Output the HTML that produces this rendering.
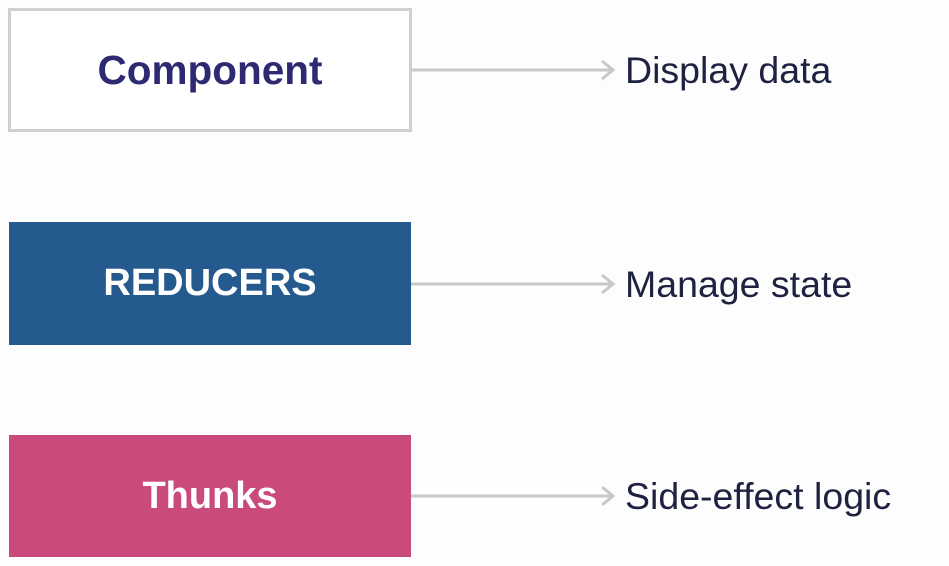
<!DOCTYPE html>
<html><head><style>
body{margin:0;width:949px;height:566px;background:#fdfdfd;position:relative;overflow:hidden;font-family:"Liberation Sans",sans-serif}
.b{position:absolute;box-sizing:border-box;display:flex;align-items:center;justify-content:center;font-weight:bold;font-size:38px}
.t{position:absolute;left:625px;font-size:37.5px;color:#1e2240;line-height:1}
</style></head><body>
<div class="b" style="left:8px;top:8px;width:404px;height:124px;border:3px solid #cfcfcf;background:#fff;color:#2e2a72;font-size:40.5px">Component</div>
<div class="b" style="left:9px;top:222px;width:402px;height:123px;background:#255a8e;color:#fff">REDUCERS</div>
<div class="b" style="left:9px;top:435px;width:402px;height:122px;background:#c94a7b;color:#fff">Thunks</div>
<svg width="949" height="566" style="position:absolute;left:0;top:0">
<g stroke="#c8c8c8" stroke-width="3" fill="none">
<path d="M412 70H612M602 61L613 70L602 79"/>
<path d="M411 284H612M602 275L613 284L602 293"/>
<path d="M411 496H612M602 487L613 496L602 505"/>
</g></svg>
<div class="t" style="top:52px">Display data</div>
<div class="t" style="top:266px">Manage state</div>
<div class="t" style="top:478px">Side-effect logic</div>
</body></html>
